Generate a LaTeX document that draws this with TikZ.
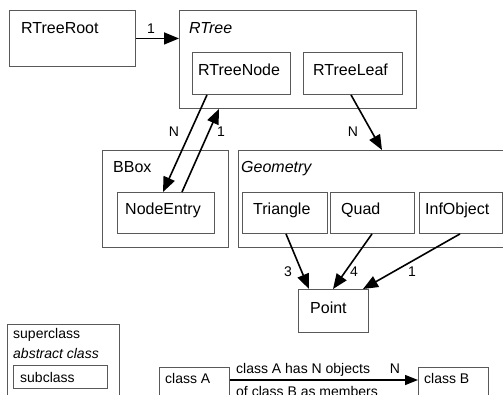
\documentclass[tikz,border=0pt]{standalone}
\usepackage{fontspec}
\setmainfont{Liberation Sans}
\usetikzlibrary{arrows.meta,calc}
\tikzset{
  box/.style={draw=black!65, line width=0.9pt, rectangle, inner sep=0pt, anchor=north west},
  txt/.style={inner sep=0pt, anchor=base west, font=\fontsize{16}{19}\selectfont},
  itxt/.style={txt, font=\fontsize{16}{19}\selectfont\itshape},
  ltxt/.style={inner sep=0pt, anchor=base west, font=\fontsize{14}{17}\selectfont},
  litxt/.style={ltxt, font=\fontsize{14}{17}\selectfont\itshape},
  lbl/.style={inner sep=0pt, font=\fontsize{14}{17}\selectfont},
  conn/.style={draw=black, line width=1.6pt, -{Triangle[length=15pt,width=12pt]}},
  lconn/.style={draw=black, line width=1.4pt, -{Triangle[length=13pt,width=10pt]}},
}
\begin{document}
\begin{tikzpicture}[x=1pt,y=-1pt]
\useasboundingbox (0,0) rectangle (503,394);
\clip (0,0) rectangle (503,394);
% boxes
\node[box, minimum width=126pt, minimum height=56pt] (rroot) at (9,10) {};
\node[box, minimum width=237pt, minimum height=98pt] (rtree) at (179,10) {};
\node[box, minimum width=98pt, minimum height=42pt] (rnode) at (192,52) {};
\node[box, minimum width=99pt, minimum height=42pt] (rleaf) at (303,52) {};
\node[box, minimum width=126pt, minimum height=97pt] (bbox) at (102,150) {};
\node[box, minimum width=97pt, minimum height=41pt] (nentry) at (117,192) {};
\node[box, minimum width=290pt, minimum height=97pt] (geom) at (238,150) {};
\node[box, minimum width=85pt, minimum height=41pt] (tri) at (242,192) {};
\node[box, minimum width=84pt, minimum height=41pt] (quad) at (330,192) {};
\node[box, minimum width=83pt, minimum height=41pt] (inf) at (419,192) {};
\node[box, minimum width=70pt, minimum height=43pt] (point) at (298,289) {};
\node[box, minimum width=112pt, minimum height=90pt] (sup) at (7,324) {};
\node[box, minimum width=94pt, minimum height=23pt] (sub) at (13,365) {};
\node[box, minimum width=70pt, minimum height=45pt] (ca) at (159,367) {};
\node[box, minimum width=70pt, minimum height=45pt] (cb) at (418,367) {};
% texts
\node[txt] (t-rroot) at (21,33) {RTreeRoot};
\node[itxt] (t-rtree) at (189,33) {RTree};
\node[txt] (t-rnode) at (198,75) {RTreeNode};
\node[txt] (t-rleaf) at (313,75) {RTreeLeaf};
\node[txt] (t-bbox) at (113,172) {BBox};
\node[txt] (t-nentry) at (125,214) {NodeEntry};
\node[itxt] (t-geom) at (241,172) {Geometry};
\node[txt] (t-tri) at (253,214) {Triangle};
\node[txt] (t-quad) at (341,214) {Quad};
\node[txt] (t-inf) at (425,214) {InfObject};
\node[txt] (t-point) at (310,313) {Point};
\node[ltxt] (t-sup) at (13,338) {superclass};
\node[litxt] (t-abs) at (13,358) {abstract class};
\node[ltxt] (t-sub) at (20,382) {subclass};
\node[ltxt] (t-ca) at (165,383) {class A};
\node[ltxt] (t-cb) at (424,383) {class B};
\node[ltxt] (t-has) at (236,373) {class A has N objects};
\node[ltxt] (t-mem) at (236,396) {of class B as members};
% connectors
\draw[conn] (rroot.east) -- (rtree.west |- rroot.east);
\draw[conn] ($(rnode.south west)+(15,0)$) -- ($(nentry.north west)+(46,0)$);
\draw[conn] ($(nentry.north west)+(65,0)$) -- ($(rtree.south west)+(40,0)$);
\draw[conn] ($(rleaf.south west)+(48,0)$) -- ($(geom.north west)+(144,0)$);
\draw[conn] ($(tri.south west)+(44,0)$) -- ($(point.north west)+(11,0)$);
\draw[conn] ($(quad.south west)+(42,0)$) -- ($(point.north west)+(35,0)$);
\draw[conn] ($(inf.south west)+(41,0)$) -- ($(point.north west)+(65,0)$);
\draw[lconn] (ca.east |- 0,380) -- (cb.west |- 0,380);
% labels
\node[lbl] (l1) at (151,29) {1};
\node[lbl] (l2) at (174,132) {N};
\node[lbl] (l3) at (221,132) {1};
\node[lbl] (l4) at (353,132) {N};
\node[lbl] (l5) at (288,272) {3};
\node[lbl] (l6) at (354,272) {4};
\node[lbl] (l7) at (412,272) {1};
\node[lbl] (l8) at (395,369) {N};
\end{tikzpicture}
\end{document}
